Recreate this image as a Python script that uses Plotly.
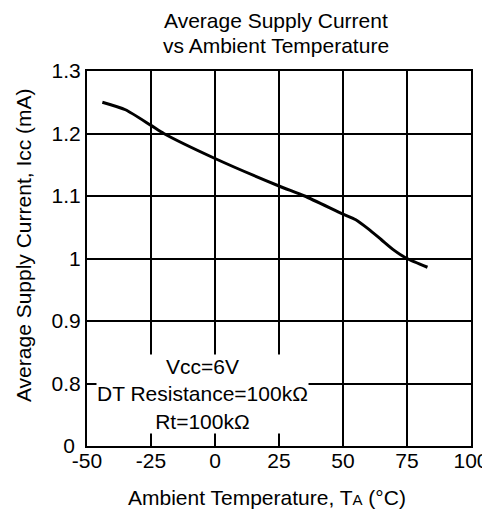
import plotly.graph_objects as go

# Data
temp_c = [-44, -35, -25, -20, 0, 25, 35, 50, 55, 60, 65, 70, 75, 83]
icc_ma = [1.250, 1.238, 1.213, 1.200, 1.160, 1.116, 1.100, 1.071, 1.062, 1.047, 1.030, 1.013, 1.000, 0.986]

x_tickvals = [-50, -25, 0, 25, 50, 75, 100]
x_ticktext = ["-50", "-25", "0", "25", "50", "75", "100"]
y_tickvals = [0.7, 0.8, 0.9, 1.0, 1.1, 1.2, 1.3]
y_ticktext = ["0\u00a0", "0.8", "0.9", "1", "1.1", "1.2", "1.3"]

title_lines = ["Average Supply Current", "vs Ambient Temperature"]

FONT = "Liberation Sans, Arial, sans-serif"
FS = 21

fig = go.Figure()
fig.add_trace(go.Scatter(
    x=temp_c, y=icc_ma, mode="lines",
    line=dict(color="black", width=3, shape="spline", smoothing=0.6),
    hoverinfo="skip", showlegend=False,
))

# page body has an 8px margin, so the figure is drawn 8px smaller and offset
fig.update_layout(
    template="none",
    width=482, height=504,
    margin=dict(l=79, r=19, t=63, b=66, autoexpand=False),
    paper_bgcolor="white", plot_bgcolor="white",
    font=dict(family=FONT, size=FS, color="black"),
    showlegend=False,
)
fig.update_xaxes(
    range=[-50, 100], tickvals=x_tickvals, ticktext=x_ticktext, ticks="",
    showgrid=True, gridcolor="black", gridwidth=2,
    showline=True, linecolor="black", linewidth=2, mirror=True,
    zeroline=False, ticklabelstandoff=-5, automargin=False,
    tickfont=dict(size=FS),
)
fig.update_yaxes(
    range=[0.7, 1.3], tickvals=y_tickvals, ticktext=y_ticktext, ticks="",
    showgrid=True, gridcolor="black", gridwidth=2,
    showline=True, linecolor="black", linewidth=2, mirror=True,
    zeroline=False, ticklabelstandoff=0, automargin=False,
    tickfont=dict(size=FS),
)

# Title (two lines, tighter spacing as in the reference)
for txt, shift in zip(title_lines, [51, 26]):
    fig.add_annotation(
        x=0.492, y=1.0, xref="paper", yref="paper", xanchor="center", yanchor="middle",
        yshift=shift, showarrow=False, text=txt, font=dict(size=FS),
    )
# Axis titles
fig.add_annotation(
    x=-0.165, y=0.535, xref="paper", yref="paper", xanchor="center", yanchor="middle",
    showarrow=False, textangle=-90,
    text="Average Supply Current, Icc (mA)",
    font=dict(size=FS),
)
fig.add_annotation(
    x=0.47, y=0, xref="paper", yref="paper", xanchor="center", yanchor="top",
    yshift=-38, showarrow=False,
    text="Ambient Temperature, T<span style='font-size:15px'>A</span> (°C)",
    font=dict(size=FS),
)
# Condition box
fig.add_annotation(
    x=-4.7, y=0.783, xref="x", yref="y", xanchor="center", yanchor="middle",
    showarrow=False, bgcolor="white", borderpad=0,
    text="Vcc=6V<br>DT Resistance=100kΩ<br>Rt=100kΩ",
    font=dict(size=FS),
)

fig.write_html("out.html")
